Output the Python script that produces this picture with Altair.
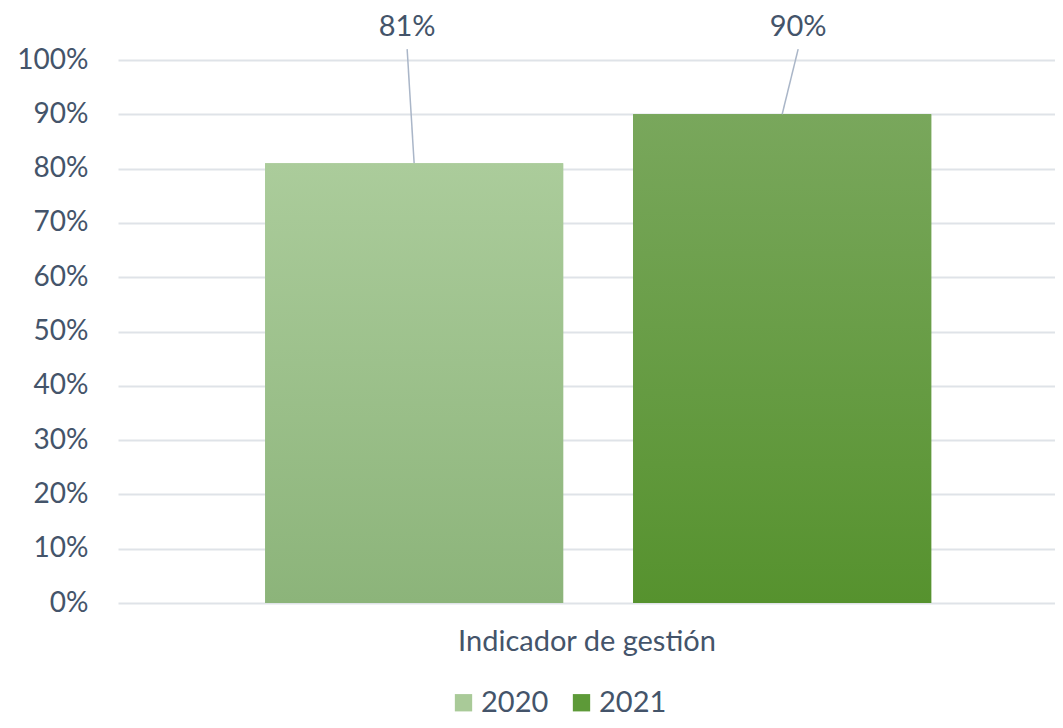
import altair as alt
import pandas as pd

category = "Indicador de gestión"
years = ["2020", "2021"]
values = [0.81, 0.90]
labels = ["81%", "90%"]

df = pd.DataFrame({"year": years, "value": values, "label": labels, "cat": [category] * 2})

TEXT = "#44546a"
FONT = "Lato"

def grad(top, bottom):
    return alt.Gradient(
        gradient="linear",
        stops=[alt.GradientStop(color=top, offset=0), alt.GradientStop(color=bottom, offset=1)],
        x1=0, x2=0, y1=0, y2=1,
    )

xscale = alt.Scale(domain=years, paddingInner=0.19, paddingOuter=0.368, align=0.543)
yscale = alt.Scale(domain=[0, 1])

x_enc = alt.X("year:N", scale=xscale,
              axis=alt.Axis(labels=False, ticks=False, domain=False, grid=False,
                            title=category, titleFontSize=29, titleFont=FONT,
                            titleColor=TEXT, titleFontWeight="normal", titlePadding=24))
y_enc = alt.Y("value:Q", scale=yscale,
              axis=alt.Axis(format=".0%", values=[i / 10 for i in range(11)], tickCount=11,
                            labelFontSize=28, labelFont=FONT, labelColor=TEXT,
                            labelPadding=30, ticks=False, domain=False,
                            gridColor="#dfe3e8", gridWidth=2, title=None))

base = alt.Chart(df)

legend_layer = base.mark_bar().encode(
    x=x_enc, y=y_enc,
    color=alt.Color("year:N", scale=alt.Scale(domain=years, range=["#a9ca98", "#5d9a38"]),
                    legend=alt.Legend(title=None, orient="none", legendX=331, legendY=628,
                                      direction="horizontal", symbolType="square",
                                      symbolSize=300, symbolStrokeWidth=0,
                                      labelFontSize=29, labelFont=FONT, labelColor=TEXT,
                                      columnPadding=18, labelOffset=3)),
)

bar2020 = base.transform_filter(alt.datum.year == "2020").mark_bar(
    fill=grad("#abcc9b", "#8cb47a")).encode(x="year:N", y="value:Q")
bar2021 = base.transform_filter(alt.datum.year == "2021").mark_bar(
    fill=grad("#79a75c", "#56922e")).encode(x="year:N", y="value:Q")

lead2020 = base.transform_filter(alt.datum.year == "2020").mark_rule(
    color="#aab6c8", strokeWidth=1.5, x2Offset=-7).encode(
    x=alt.X("year:N", bandPosition=0.5), x2=alt.X2("year:N", bandPosition=0.5),
    y="value:Q", y2=alt.Y2(datum=1.02))
lead2021 = base.transform_filter(alt.datum.year == "2021").mark_rule(
    color="#aab6c8", strokeWidth=1.5, x2Offset=16).encode(
    x=alt.X("year:N", bandPosition=0.5), x2=alt.X2("year:N", bandPosition=0.5),
    y="value:Q", y2=alt.Y2(datum=1.02))

txt2020 = base.transform_filter(alt.datum.year == "2020").mark_text(
    fontSize=29, font=FONT, color=TEXT, dx=-7, baseline="middle").encode(
    x=alt.X("year:N", bandPosition=0.5), y=alt.datum(1.06), text="label:N")
txt2021 = base.transform_filter(alt.datum.year == "2021").mark_text(
    fontSize=29, font=FONT, color=TEXT, dx=16, baseline="middle").encode(
    x=alt.X("year:N", bandPosition=0.5), y=alt.datum(1.06), text="label:N")

chart = alt.layer(legend_layer, bar2020, bar2021, lead2020, lead2021, txt2020, txt2021).properties(
    width=937, height=543,
    autosize=alt.AutoSizeParams(type="none"),
    padding={"left": 110, "top": 52, "right": 0, "bottom": 117},
).configure_view(stroke=None)

chart.save("out.html", embed_options={"renderer": "svg", "actions": False})
